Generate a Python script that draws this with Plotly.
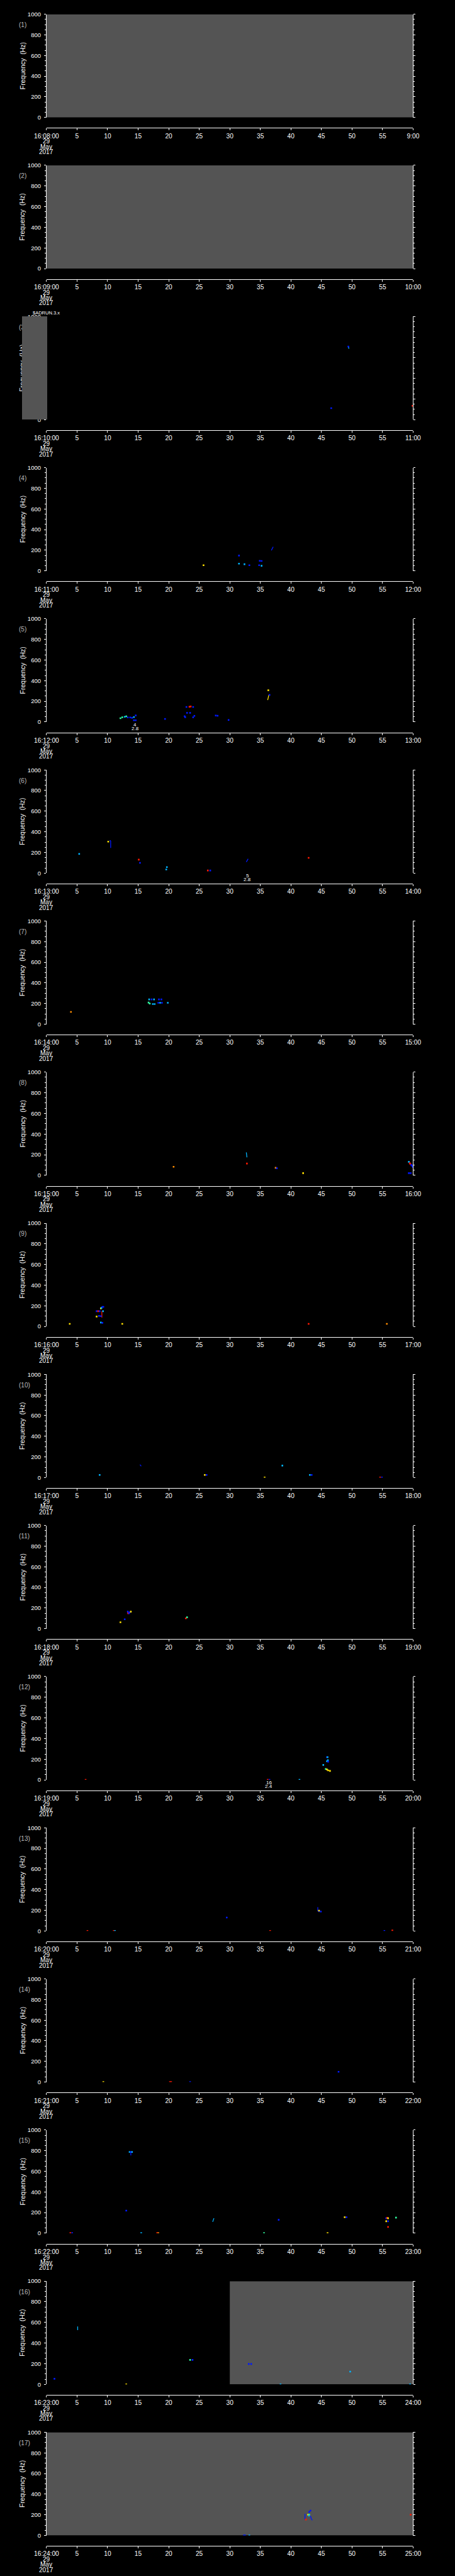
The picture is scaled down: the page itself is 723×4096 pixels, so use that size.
import plotly.graph_objects as go

# ---------------- data (seconds within the minute, frequency in Hz, colour level) ----------------
PANEL_START_MIN = list(range(8, 25))          # 16:08 ... 16:24, one minute per panel
DATE_LINES = ["29", "May", "2017"]
X_TICK_SEC = [0, 5, 10, 15, 20, 25, 30, 35, 40, 45, 50, 55, 60]
Y_TICK_HZ = [0, 200, 400, 600, 800, 1000]

# grey "no data" intervals: (panel, start s, end s)
NODATA_PANEL = [1, 2, 16, 17]
NODATA_T0 = [0, 0, 30, 0]
NODATA_T1 = [60, 60, 60, 60]

# colour levels: 0 blue, 1 light blue/cyan, 2 green, 3 yellow, 4 orange, 5 red
LEVEL_COLORS = ["#0018ff", "#00b4ff", "#30ffa0", "#ffe000", "#ff8c00", "#ff1800"]

DOT_PANEL = [3, 3, 3,
             4, 4, 4, 4, 4, 4, 4, 4, 4,
             5, 5, 5, 5, 5, 5, 5, 5, 5, 5, 5, 5, 5, 5, 5, 5, 5, 5, 5, 5, 5, 5, 5, 5, 5, 5, 5,
             6, 6, 6, 6, 6, 6, 6, 6, 6,
             7, 7, 7, 7, 7, 7, 7, 7, 7, 7, 7, 7, 7, 7,
             8, 8, 8, 8, 8, 8, 8, 8, 8, 8, 8, 8, 8, 8,
             9, 9, 9, 9, 9, 9, 9, 9, 9, 9, 9, 9, 9, 9, 9, 9, 9,
             10, 10, 10, 10, 10, 10, 10, 10, 10,
             11, 11, 11, 11, 11, 11, 11, 11, 11,
             12, 12, 12, 12, 12, 12, 12, 12, 12, 12, 12, 12, 12, 12,
             13, 13, 13, 13, 13, 13, 13, 13, 13, 13,
             14, 14, 14, 14, 14,
             15, 15, 15, 15, 15, 15, 15, 15, 15, 15, 15, 15, 15, 15, 15, 15, 15, 15, 15, 15, 15,
             16, 16, 16, 16, 16, 16, 16, 16, 16,
             17, 17, 17, 17, 17, 17, 17, 17, 17, 17]
DOT_SEC = [46.6, 59.9, 49.4,
           25.7, 31.5, 31.5, 32.4, 33.2, 34.9, 35.2, 34.8, 35.2,
           12.1, 12.4, 12.8, 13.05, 13.3, 13.7, 14.0, 14.3, 14.6, 14.3, 14.6, 19.4, 22.9, 23.4, 23.6, 24.0,
           23.0, 23.5, 22.6, 22.7, 24.0, 24.2, 27.7, 28.0, 29.8, 36.3, 36.5,
           5.35, 10.1, 15.1, 15.3, 19.7, 19.6, 26.4, 26.8, 42.9,
           4.0, 16.8, 17.2, 17.6, 18.4, 18.8, 16.7, 16.9, 17.4, 17.7, 18.3, 18.6, 18.9, 19.85,
           20.8, 32.8, 37.5, 37.7, 42.0, 59.3, 59.45, 59.55, 59.7, 59.85, 59.95, 60.0, 59.3, 59.6,
           3.8, 8.2, 8.45, 8.7, 8.2, 8.6, 8.9, 8.9, 9.0, 9.15, 9.3, 9.25, 8.9, 9.15, 12.4, 42.9, 55.7,
           8.7, 25.9, 26.2, 35.7, 38.6, 43.1, 43.4, 54.6, 54.9,
           12.1, 12.8, 13.3, 13.35, 13.5, 13.6, 13.8, 22.8, 23.0,
           6.4, 36.2, 36.5, 41.4, 45.9, 46.0, 45.9, 46.05, 46.1, 45.3, 45.7, 45.9, 46.1, 46.4,
           6.7, 11.0, 11.2, 29.5, 44.6, 44.9, 44.6, 36.6, 55.3, 56.6,
           9.3, 20.2, 20.4, 23.5, 47.8,
           13.6, 13.8, 14.0, 13.05, 3.9, 4.2, 15.5, 18.1, 18.3, 38.0, 35.6, 46.0, 48.8, 49.1,
           55.6, 55.75, 55.9, 55.6, 55.9, 55.9, 57.2,
           1.3, 13.05, 23.5, 23.9, 33.1, 33.5, 38.3, 49.7, 59.5,
           32.3, 32.5, 33.2, 42.45, 42.8, 43.0, 42.95, 43.0, 43.2, 59.6]
DOT_HZ = [112, 135, 709,
          54, 148, 69, 64, 54, 97, 95, 54, 49,
          36, 45, 50, 54, 44, 44, 40, 47, 63, 16, 16, 29, 145, 147, 150, 145,
          88, 88, 55, 46, 45, 59, 62, 60, 19, 307, 262,
          186, 305, 130, 99, 58, 35, 25, 25, 148,
          119, 240, 240, 240, 240, 240, 210, 200, 195, 195, 207, 207, 207, 207,
          83, 114, 73, 68, 21, 131, 118, 110, 100, 92, 85, 80, 21, 21,
          25, 148, 148, 148, 96, 102, 100, 175, 180, 190, 190, 148, 38, 35, 25, 25, 25,
          25, 25, 25, 0, 116, 25, 25, 0, 0,
          62, 91, 165, 150, 150, 158, 165, 100, 110,
          0, 0, 0, 0, 220, 220, 180, 190, 176, 144, 105, 100, 92, 86,
          0, 0, 0, 130, 191, 188, 197, 0, 0, 4,
          0, 0, 0, 0, 100,
          787, 787, 787, 219, 0, 0, 0, 0, 0, 130, 0, 0, 155, 155,
          145, 148, 145, 116, 116, 60, 151,
          54, 0, 237, 237, 197, 197, 0, 123, 0,
          0, 0, 0, 155, 201, 201, 192, 228, 241, 201]
DOT_LEVEL = [0, 5, 0,
             3, 0, 1, 1, 0, 0, 0, 0, 1,
             2, 2, 1, 2, 0, 0, 0, 1, 0, 0, 0, 0, 0, 5, 5, 0,
             0, 0, 0, 0, 0, 0, 0, 0, 0, 3, 0,
             1, 3, 5, 0, 1, 1, 5, 0, 5,
             4, 1, 0, 1, 0, 0, 2, 2, 1, 1, 0, 1, 0, 1,
             4, 5, 4, 0, 3, 1, 5, 5, 0, 0, 0, 0, 0, 0,
             3, 0, 5, 0, 3, 0, 0, 3, 1, 0, 0, 1, 1, 0, 3, 5, 4,
             1, 3, 0, 3, 1, 1, 0, 5, 0,
             3, 0, 0, 5, 0, 0, 3, 5, 2,
             5, 5, 0, 1, 0, 1, 1, 1, 0, 1, 2, 3, 3, 3,
             5, 5, 1, 0, 0, 0, 3, 5, 0, 5,
             3, 5, 5, 0, 0,
             1, 0, 1, 0, 5, 0, 1, 5, 4, 0, 2, 3, 3, 0,
             0, 5, 3, 3, 0, 5, 2,
             0, 3, 2, 0, 0, 0, 1, 1, 1,
             0, 0, 1, 5, 3, 2, 1, 0, 0, 5]

# short traced segments: (panel, t0, f0, t1, f1, level)
SEG_PANEL = [3, 4, 5, 6, 6, 6, 8, 9, 10, 13, 15, 15, 16, 17, 17, 17]
SEG_T0 = [49.4, 36.8, 36.2, 10.3, 10.5, 32.7, 32.7, 9.06, 15.3, 44.4, 13.8, 27.2, 5.1, 42.3, 43.2, 43.35]
SEG_F0 = [709, 198, 212, 314, 314, 107, 222, 148, 125, 230, 787, 110, 561, 211, 190, 160]
SEG_T1 = [49.5, 37.1, 36.4, 10.5, 10.5, 33.0, 32.8, 9.06, 15.5, 44.4, 13.8, 27.4, 5.1, 42.3, 43.35, 43.5]
SEG_F1 = [688, 232, 262, 314, 243, 138, 174, 86, 110, 191, 754, 145, 526, 154, 160, 147]
SEG_LEVEL = [1, 0, 3, 0, 0, 0, 1, 5, 0, 0, 0, 1, 1, 0, 0, 0]

# small event labels under some panels
EVT_PANEL = [5, 6, 12]
EVT_SEC = [14.5, 32.9, 36.4]
EVT_TOP = ["4", "5", "16"]
EVT_BOT = ["2.8", "2.8", "2.4"]

# ---------------- geometry (reference pixel units -> paper fractions) ----------------
REF_W, REF_H = 1024.0, 5802.0
PLOT_L, PLOT_R = 80.0, 944.5
TOP0, PITCH, PLOT_H, AX_GAP = 23.7, 341.3, 233.0, 23.7


def fx(px):
    return px / REF_W


def fy(py):
    return 1.0 - py / REF_H


FONT = "Liberation Sans, Arial, Helvetica, sans-serif"
fig = go.Figure()
annotations = []
shapes = []
layout = {}

n = len(PANEL_START_MIN)
for k in range(1, n + 1):
    top = TOP0 + (k - 1) * PITCH
    bot = top + PLOT_H
    axl = bot + AX_GAP
    sfx = "" if k == 1 else str(k)
    mn = PANEL_START_MIN[k - 1]
    ticktext = ["16:%02d:00" % mn] + [str(v) for v in X_TICK_SEC[1:-1]] + ["%d:00" % (mn + 1)]
    layout["xaxis" + sfx] = dict(
        domain=[fx(PLOT_L), fx(PLOT_R)], range=[0, 60], anchor="free", position=fy(axl),
        tickmode="array", tickvals=X_TICK_SEC, ticktext=ticktext,
        ticks="outside", ticklen=3, tickwidth=1, tickcolor="white",
        showline=True, linecolor="white", linewidth=1, showgrid=False, zeroline=False,
        tickfont=dict(family=FONT, size=10.2, color="white"), fixedrange=True)
    layout["yaxis" + sfx] = dict(
        domain=[fy(bot), fy(top)], range=[0, 1000], anchor="x" + sfx,
        tickmode="array", tickvals=Y_TICK_HZ,
        ticks="outside", ticklen=3, tickwidth=1, tickcolor="white", ticklabelstandoff=3,
        minor=dict(dtick=50, tick0=0, ticks="outside", ticklen=1.6, tickcolor="white", tickwidth=1,
                   showgrid=False),
        showline=True, linecolor="white", linewidth=1, mirror="ticks",
        showgrid=False, zeroline=False,
        tickfont=dict(family=FONT, size=9.5, color="white"), fixedrange=True)

    # y title and panel number
    annotations.append(dict(xref="paper", yref="paper", x=fx(23), y=fy(top + 116.5), text="Frequency  (Hz)",
                            textangle=-90, showarrow=False, xanchor="center", yanchor="middle",
                            font=dict(family=FONT, size=10.5, color="white")))
    annotations.append(dict(xref="paper", yref="paper", x=fx(11.5), y=fy(top + 24), text="(%d)" % k,
                            showarrow=False, xanchor="left", yanchor="middle",
                            font=dict(family=FONT, size=10, color="#bdbdbd")))
    for i, line in enumerate(DATE_LINES):
        annotations.append(dict(xref="paper", yref="paper", x=fx(PLOT_L), y=fy(axl + 30.5 + 11.8 * i),
                                text=line, showarrow=False, xanchor="center", yanchor="middle",
                                font=dict(family=FONT, size=10, color="white")))

    # no-data regions
    for p, t0, t1 in zip(NODATA_PANEL, NODATA_T0, NODATA_T1):
        if p == k:
            shapes.append(dict(type="rect", xref="x" + sfx, yref="y" + sfx, x0=t0, x1=t1, y0=0, y1=1000,
                               fillcolor="#545454", line=dict(width=0), layer="below"))

    # detections
    xs = [t for p, t in zip(DOT_PANEL, DOT_SEC) if p == k]
    ys = [f for p, f in zip(DOT_PANEL, DOT_HZ) if p == k]
    cs = [LEVEL_COLORS[lv] for p, lv in zip(DOT_PANEL, DOT_LEVEL) if p == k]
    for p, t0, f0, t1, f1, lv in zip(SEG_PANEL, SEG_T0, SEG_F0, SEG_T1, SEG_F1, SEG_LEVEL):
        if p == k:
            fig.add_trace(go.Scatter(x=[t0, t1], y=[f0, f1], mode="lines", xaxis="x" + sfx, yaxis="y" + sfx,
                                     line=dict(color=LEVEL_COLORS[lv], width=1.3), showlegend=False,
                                     hoverinfo="skip"))
    if xs:
        fig.add_trace(go.Scatter(x=xs, y=ys, mode="markers", xaxis="x" + sfx, yaxis="y" + sfx,
                                 marker=dict(symbol="square", size=2.6, color=cs, line=dict(width=0)),
                                 showlegend=False, hoverinfo="skip"))
    else:
        fig.add_trace(go.Scatter(x=[None], y=[None], mode="markers", xaxis="x" + sfx, yaxis="y" + sfx,
                                 showlegend=False, hoverinfo="skip"))

    for p, s, a, b in zip(EVT_PANEL, EVT_SEC, EVT_TOP, EVT_BOT):
        if p == k:
            annotations.append(dict(xref="x" + sfx, yref="paper", x=s, y=fy(bot + 6.0), text=a,
                                    showarrow=False, xanchor="center", yanchor="middle",
                                    font=dict(family=FONT, size=8, color="white")))
            annotations.append(dict(xref="x" + sfx, yref="paper", x=s, y=fy(bot + 15.2), text=b,
                                    showarrow=False, xanchor="center", yanchor="middle",
                                    font=dict(family=FONT, size=8, color="white")))

# stray IDL label and the grey block that hides the left side of panel 3
annotations.append(dict(xref="paper", yref="paper", x=fx(80), y=fy(697.8), text="$ADRUN.3.x",
                        showarrow=False, xanchor="center", yanchor="middle",
                        font=dict(family=FONT, size=7.5, color="white")))
top3 = TOP0 + 2 * PITCH
annotations.append(dict(xref="paper", yref="paper", x=fx(22.2), y=fy(top3), text=" ",
                        showarrow=False, xanchor="left", yanchor="top",
                        width=(79.2 - 22.2) * 723 / REF_W, height=PLOT_H * 4096 / REF_H,
                        bgcolor="#545454", borderpad=0, borderwidth=0,
                        font=dict(family=FONT, size=8, color="#545454")))

layout.update(dict(width=723, height=4096, autosize=False,
                   margin=dict(l=0, r=0, t=0, b=0, pad=0),
                   paper_bgcolor="black", plot_bgcolor="black",
                   showlegend=False, annotations=annotations, shapes=shapes,
                   font=dict(family=FONT, color="white")))
fig.update_layout(**layout)
fig.write_html("out.html", include_plotlyjs=True, config={"displayModeBar": False},
               post_script="document.body.style.margin='0px';document.body.style.backgroundColor='black';")
